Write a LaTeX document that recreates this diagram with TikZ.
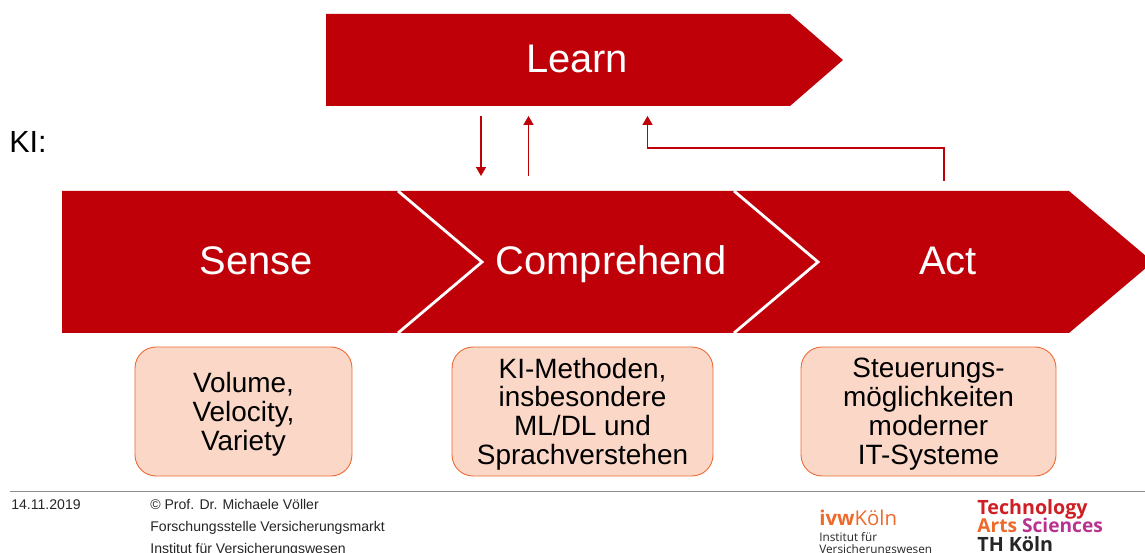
\documentclass[tikz,border=0pt]{standalone}
\usepackage{fontspec}
\setmainfont{Liberation Sans}
\newfontfamily\logofont{Open Sans}
\usetikzlibrary{arrows.meta}
\definecolor{thred}{HTML}{C00008}
\definecolor{boxfill}{HTML}{FBD7C8}
\definecolor{boxline}{HTML}{EC6A32}
\definecolor{ivworange}{HTML}{EE6A2B}
\definecolor{artsmagenta}{HTML}{B8338F}
\definecolor{techred}{HTML}{CF1F25}
\tikzset{
  chevron/.style={fill=thred,draw=none},
  chevtext/.style={text=white,anchor=base,inner sep=0pt,font=\fontsize{22.7}{26}\selectfont},
  chevedge/.style={white,line width=1.6pt},
  link/.style={draw=thred,line width=0.7pt,-{Triangle[length=5pt,width=5.6pt]}},
  infobox/.style={draw=boxline,fill=boxfill,line width=0.5pt,rounded corners=0.42cm,minimum height=2.58cm},
  infotext/.style={align=center,inner sep=0pt,font=\fontsize{15.9}{16.4}\selectfont},
  foot/.style={anchor=base west,inner sep=0pt,font=\fontsize{8}{10}\selectfont,text=black!85},
  logobig/.style={anchor=base west,inner sep=0pt,font=\logofont\bfseries\fontsize{11.2}{13}\selectfont},
  logosmall/.style={anchor=base west,inner sep=0pt,text=black!85,font=\logofont\fontsize{6.7}{8}\selectfont},
}
\begin{document}
\begin{tikzpicture}[x=0.02cm,y=-0.02cm]
      \clip (0,0) rectangle (1145,553);
      \fill[white] (0,0) rectangle (1145,553);
      % top bar
      \draw[chevron] (326,14) -- (790,14) -- (843,60) -- (790,106) -- (326,106) -- cycle;
      \node[chevtext] (learn) at (577,73) {Learn};
      \node[font=\fontsize{17.4}{20}\selectfont,anchor=base west,inner sep=0pt] (ki) at (9,153) {KI:};
      % main row
      \draw[chevron] (62,191) -- (1069,191) -- (1153,262) -- (1069,333) -- (62,333) -- cycle;
      \draw[chevedge] (398,191) -- (482,262) -- (398,333);
      \draw[chevedge] (734,191) -- (818,262) -- (734,333);
      \node[chevtext] (sense) at (256,275) {Sense};
      \node[chevtext] (comprehend) at (611,275) {Comprehend};
      \node[chevtext] (act) at (948,275) {Act};
      % links
      \coordinate (down1) at (481,116);
      \coordinate (down2) at (481,176);
      \coordinate (up1) at (528.5,176);
      \coordinate (up2) at (528.5,116);
      \coordinate (back1) at (944,181);
      \coordinate (back2) at (647.5,116);
      \draw[link] (down1) -- (down2);
      \draw[link] (up1) -- (up2);
      \draw[link] (back1) |- (647.5,148) -- (back2);
      % boxes
      \node[infobox,minimum width=4.34cm] (sensebox) at (243.5,411.5) {};
      \node[infobox,minimum width=5.22cm] (compbox) at (582.5,411.5) {};
      \node[infobox,minimum width=5.1cm] (actbox) at (928.5,411.5) {};
      \node[infotext] (sensetext) at (243.5,414) {Volume,\\Velocity,\\Variety};
      \node[infotext] (comptext) at (582.5,414) {KI-Methoden,\\insbesondere\\ML/DL und\\Sprachverstehen};
      \node[infotext] (acttext) at (928.5,414) {Steuerungs-\\möglichkeiten\\moderner\\IT-Systeme};
      % footer
      \coordinate (ruleleft) at (10,491);
      \coordinate (ruleright) at (1145,491);
      \draw[black!45,line width=0.5pt] (ruleleft) -- (ruleright);
      \node[foot] (date) at (11,509) {14.11.2019};
      \node[foot] (prof) at (150,509) {© Prof. Dr. Michaele Völler};
      \node[foot] (fstelle) at (150,531) {Forschungsstelle Versicherungsmarkt};
      \node[foot] (inst) at (150,553) {Institut für Versicherungswesen};
      \node[anchor=base west,inner sep=0pt,text=ivworange,font=\logofont\fontsize{11.6}{13}\selectfont] (ivw) at (819,525) {\textbf{ivw}Köln};
      \node[logosmall] (ivw1) at (819,541) {Institut für};
      \node[logosmall] (ivw2) at (819,553) {Versicherungswesen};
      \node[logobig] (tech) at (977,514) {\textcolor{techred}{Technology}};
      \node[logobig,font=\logofont\bfseries\fontsize{10.9}{13}\selectfont] (arts) at (977,532) {\textcolor{ivworange}{Arts} \textcolor{artsmagenta}{Sciences}};
      \node[logobig,text=black!85] (th) at (977,551.5) {TH Köln};
\end{tikzpicture}
\end{document}
